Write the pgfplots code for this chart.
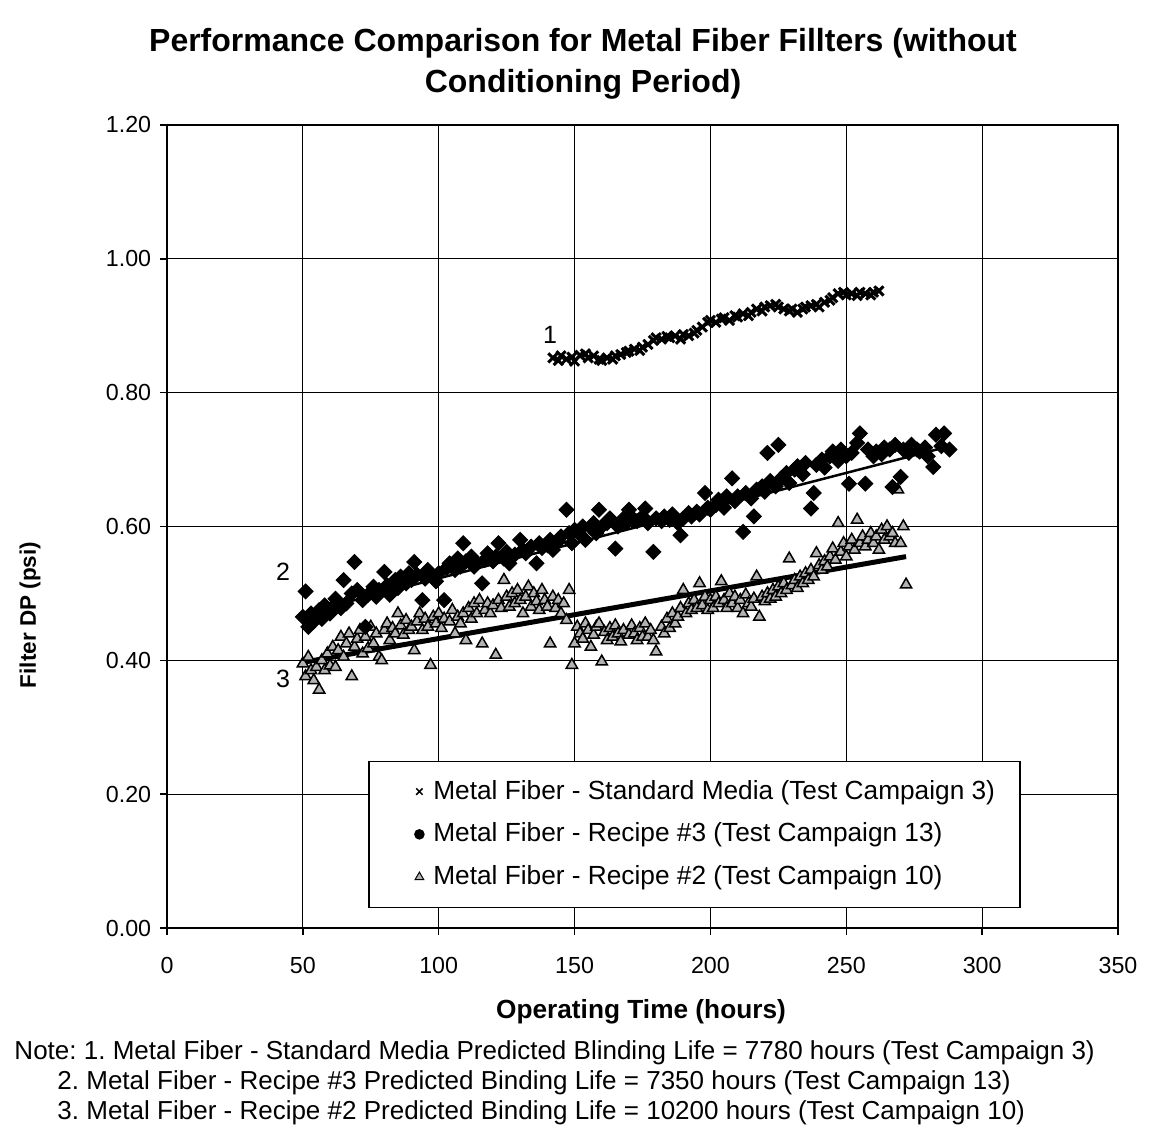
\documentclass[border=0pt]{standalone}
\usepackage{fontspec}
\setmainfont{Liberation Sans}
\usepackage{pgfplots}
\usepackage{pgfplotstable}
\pgfplotsset{compat=1.18}
\frenchspacing

% marker placed near the right end of its legend cell
\pgfplotsset{markleg/.style={legend image code/.code={%
  \path (0cm,0cm) (0.5cm,0cm);
  \draw[##1] plot coordinates {(0.42cm,0cm)};}}}

% Standard media, test campaign 3
\pgfplotstableread{
h dp
142 0.852
144 0.848
145 0.855
147 0.850
149 0.853
150 0.847
152 0.856
154 0.858
155 0.852
157 0.855
159 0.850
160 0.848
162 0.852
164 0.850
165 0.855
167 0.857
169 0.860
170 0.862
172 0.865
174 0.863
175 0.868
177 0.872
179 0.878
180 0.882
182 0.880
184 0.884
185 0.882
187 0.885
189 0.880
190 0.887
192 0.885
194 0.889
195 0.893
197 0.898
199 0.905
200 0.908
202 0.905
204 0.910
205 0.912
207 0.908
209 0.915
210 0.913
212 0.918
214 0.915
215 0.920
217 0.925
219 0.922
220 0.928
222 0.930
224 0.932
225 0.928
227 0.925
229 0.922
230 0.925
232 0.920
234 0.925
235 0.928
237 0.930
239 0.932
240 0.928
242 0.935
244 0.938
245 0.942
247 0.948
249 0.950
250 0.946
252 0.948
254 0.945
255 0.950
257 0.948
259 0.946
260 0.950
262 0.952
}\standard

% Recipe #3, test campaign 13
\pgfplotstableread{
h dp
50 0.465
51 0.503
52 0.450
53 0.470
54 0.458
56 0.475
57 0.462
58 0.482
60 0.470
61 0.480
62 0.492
64 0.478
65 0.520
66 0.485
68 0.500
69 0.547
70 0.505
72 0.490
73 0.450
74 0.498
76 0.510
77 0.495
78 0.505
80 0.532
81 0.512
82 0.498
84 0.520
85 0.508
86 0.525
88 0.515
89 0.530
90 0.520
91 0.547
92 0.528
94 0.490
95 0.522
96 0.535
98 0.525
99 0.518
100 0.530
102 0.490
103 0.538
104 0.545
106 0.535
107 0.552
108 0.540
109 0.575
110 0.548
112 0.555
113 0.540
114 0.545
116 0.515
117 0.550
118 0.560
120 0.548
121 0.555
122 0.575
124 0.552
125 0.562
126 0.545
128 0.558
130 0.580
131 0.565
132 0.560
134 0.570
136 0.545
137 0.575
138 0.568
140 0.572
141 0.580
142 0.565
144 0.578
145 0.585
147 0.625
148 0.590
149 0.575
150 0.595
152 0.588
153 0.600
154 0.580
156 0.598
157 0.605
158 0.590
159 0.625
160 0.600
162 0.605
163 0.612
165 0.567
166 0.600
168 0.612
169 0.605
170 0.625
172 0.610
173 0.608
175 0.615
176 0.627
177 0.605
179 0.562
180 0.612
182 0.608
183 0.615
185 0.610
186 0.618
188 0.605
189 0.587
190 0.612
192 0.620
193 0.615
195 0.622
196 0.618
198 0.650
199 0.628
200 0.625
202 0.632
203 0.640
205 0.628
206 0.645
208 0.672
209 0.638
210 0.645
212 0.592
213 0.650
215 0.642
216 0.615
217 0.655
219 0.660
220 0.652
221 0.710
222 0.668
224 0.660
225 0.722
226 0.672
228 0.680
229 0.665
231 0.685
232 0.690
234 0.678
235 0.695
237 0.627
238 0.650
239 0.692
241 0.700
242 0.688
244 0.705
245 0.712
247 0.698
248 0.715
250 0.705
251 0.664
252 0.710
254 0.725
255 0.739
257 0.664
258 0.715
260 0.705
261 0.712
263 0.708
264 0.718
266 0.715
267 0.659
268 0.722
270 0.674
271 0.715
273 0.710
274 0.722
276 0.715
277 0.712
279 0.718
280 0.705
282 0.689
283 0.737
285 0.720
286 0.739
288 0.715
}\recipethree

% Recipe #2, test campaign 10
\pgfplotstableread{
h dp
50 0.395
51 0.376
52 0.405
53 0.385
54 0.370
55 0.390
56 0.356
57 0.400
58 0.385
59 0.410
60 0.392
61 0.420
62 0.390
63 0.415
64 0.435
65 0.405
66 0.425
67 0.440
68 0.376
69 0.420
70 0.432
71 0.445
72 0.410
73 0.435
74 0.418
75 0.450
76 0.425
77 0.440
78 0.405
79 0.400
80 0.445
81 0.455
82 0.430
83 0.448
84 0.440
85 0.470
86 0.452
87 0.438
88 0.460
89 0.445
90 0.450
91 0.415
92 0.458
93 0.470
94 0.445
95 0.462
96 0.450
97 0.393
98 0.465
99 0.455
100 0.470
101 0.448
102 0.462
104 0.458
105 0.475
106 0.440
107 0.465
108 0.455
109 0.470
110 0.430
111 0.478
112 0.462
113 0.485
114 0.470
115 0.490
116 0.425
117 0.475
118 0.485
119 0.470
120 0.482
121 0.408
122 0.490
123 0.478
124 0.520
125 0.495
126 0.480
127 0.500
128 0.485
129 0.505
130 0.490
131 0.470
132 0.495
133 0.510
134 0.480
135 0.500
136 0.488
137 0.475
138 0.505
139 0.490
140 0.480
141 0.425
142 0.495
143 0.478
144 0.490
145 0.470
146 0.485
147 0.460
148 0.505
149 0.393
150 0.425
151 0.450
152 0.440
153 0.432
154 0.455
155 0.445
156 0.420
157 0.438
158 0.450
159 0.455
160 0.398
161 0.442
162 0.430
163 0.448
164 0.435
165 0.452
166 0.440
167 0.428
168 0.445
170 0.438
171 0.452
172 0.440
173 0.430
174 0.448
175 0.435
176 0.455
177 0.435
178 0.445
179 0.430
180 0.413
182 0.450
183 0.440
184 0.462
185 0.448
186 0.470
187 0.455
188 0.465
189 0.478
190 0.505
191 0.470
192 0.485
193 0.475
194 0.490
195 0.478
196 0.515
197 0.482
198 0.495
199 0.475
200 0.490
201 0.478
202 0.495
203 0.485
204 0.518
205 0.490
206 0.478
207 0.500
208 0.485
209 0.495
210 0.478
211 0.490
212 0.470
213 0.498
214 0.485
215 0.480
216 0.492
217 0.525
218 0.465
219 0.495
220 0.488
221 0.500
222 0.492
223 0.505
224 0.495
225 0.510
226 0.500
227 0.515
228 0.505
229 0.552
230 0.512
231 0.520
232 0.508
233 0.525
234 0.515
235 0.530
236 0.520
237 0.535
238 0.525
239 0.560
240 0.542
241 0.535
242 0.548
243 0.540
244 0.555
245 0.567
246 0.550
247 0.605
248 0.562
249 0.575
250 0.555
251 0.570
252 0.580
253 0.565
254 0.610
255 0.575
256 0.585
257 0.570
258 0.580
259 0.590
260 0.575
261 0.585
262 0.565
263 0.595
264 0.580
265 0.600
266 0.585
267 0.590
268 0.575
269 0.655
270 0.575
271 0.600
272 0.513
}\recipetwo

\begin{document}
\begin{tikzpicture}
  \path[use as bounding box] (-66.8pt,-83.2pt) rectangle (392.8pt,371.2pt);
  \begin{axis}[
      at={(0,0)}, anchor=south west,
      scale only axis,
      width=380.4pt, height=321.2pt,
      xmin=0, xmax=350,
      ymin=0, ymax=1.2,
      xtick={0,50,...,350},
      ytick={0,0.2,0.4,0.6,0.8,1.0,1.2},
      grid=major,
      grid style={black, line width=0.5pt},
      axis line style={line width=0.7pt},
      tick style={black, line width=0.6pt},
      tick align=outside,
      major tick length=2.8pt,
      xtick pos=left, ytick pos=left,
      ticklabel style={font=\fontsize{9.3}{10}\selectfont},
      xticklabel style={yshift=-5.5pt},
      /pgf/number format/assume math mode=true,
      yticklabel style={/pgf/number format/.cd, fixed, fixed zerofill, precision=2},
      legend style={
        at={(rel axis cs:0.2114,0.0249)}, anchor=south west,
        draw=black, line width=0.6pt,
        font=\fontsize{10.5}{12}\selectfont,
        row sep=4pt, inner xsep=8pt, inner ysep=5.5pt,
        /tikz/every odd column/.append style={column sep=1pt}},
      legend cell align=left,
    ]
    \addlegendimage{markleg, only marks, mark=x, mark size=1.8pt, black, line width=0.6pt}
    \addlegendentry{Metal Fiber - Standard Media (Test Campaign 3)}
    \addlegendimage{markleg, only marks, mark=*, mark size=1.8pt, black}
    \addlegendentry{Metal Fiber - Recipe \#3 (Test Campaign 13)}
    \addlegendimage{markleg, only marks, mark=triangle*, mark size=2pt, mark options={fill=gray!60, draw=black, line width=0.4pt}}
    \addlegendentry{Metal Fiber - Recipe \#2 (Test Campaign 10)}

    \addplot[forget plot, only marks, mark=triangle*, mark size=2.6pt,
      mark options={fill=gray!60, draw=black, line width=0.6pt}] table[x=h, y=dp] {\recipetwo};
    \addplot[forget plot, black, line width=2pt] coordinates {(50,0.397) (272,0.555)};

    \addplot[forget plot, only marks, mark=square*, mark size=2.1pt,
      mark options={black, rotate=45}] table[x=h, y=dp] {\recipethree};
    \addplot[forget plot, black, line width=1pt] coordinates {(50,0.470) (288,0.720)};

    \addplot[forget plot, only marks, mark=x, mark size=2.6pt,
      mark options={black, line width=1.2pt}] table[x=h, y=dp] {\standard};

    \node[font=\fontsize{10}{12}\selectfont] at (axis cs:141,0.886) {1};
    \node[font=\fontsize{10}{12}\selectfont] at (axis cs:42.7,0.532) {2};
    \node[font=\fontsize{10}{12}\selectfont] at (axis cs:42.7,0.372) {3};
  \end{axis}

  \node[font=\fontsize{12.8}{16.5}\bfseries, align=center] at (166.4pt,345.6pt)
    {Performance Comparison for Metal Fiber Fillters (without\\Conditioning Period)};
  \node[font=\fontsize{10.5}{12}\bfseries] at (189.6pt,-33.6pt) {Operating Time (hours)};
  \node[font=\fontsize{9}{11}\bfseries, rotate=90] at (-54.8pt,125.2pt) {Filter DP (psi)};
  \node[font=\fontsize{10.4}{12}\selectfont, anchor=west, inner sep=0pt] at (-61.2pt,-50pt)
    {Note: 1. Metal Fiber - Standard Media Predicted Blinding Life = 7780 hours (Test Campaign 3)};
  \node[font=\fontsize{10.4}{12}\selectfont, anchor=west, inner sep=0pt] at (-44pt,-62pt)
    {2. Metal Fiber - Recipe \#3 Predicted Binding Life = 7350 hours (Test Campaign 13)};
  \node[font=\fontsize{10.4}{12}\selectfont, anchor=west, inner sep=0pt] at (-44pt,-74pt)
    {3. Metal Fiber - Recipe \#2 Predicted Binding Life = 10200 hours (Test Campaign 10)};
\end{tikzpicture}
\end{document}
